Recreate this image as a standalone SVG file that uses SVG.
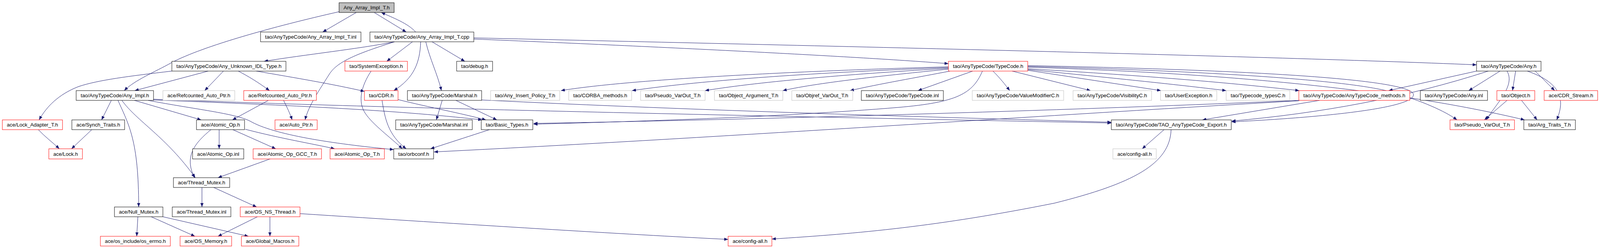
<svg xmlns="http://www.w3.org/2000/svg" width="4392" height="635" viewBox="0 0 4392 635">
<defs>
<marker id="a" markerWidth="10" markerHeight="8" refX="10" refY="4" orient="auto" markerUnits="userSpaceOnUse"><path d="M0,0L10,4L0,8z" fill="#191970"/></marker>
<style>
.n rect{fill:#fff;stroke:#000;stroke-width:1}
.n.r rect{stroke:#f00}
.n.g rect{stroke:#bfbfbf}
.n.root rect{fill:#bfbfbf}
.n text{font-family:"Liberation Sans",Arial,sans-serif;font-size:12.5px;text-anchor:middle;fill:#000}
#edges path{fill:none;stroke:#191970;stroke-width:1;marker-end:url(#a)}
</style>
</defs>
<rect width="4392" height="635" fill="#fff"/>
<g id="edges">
<path d="M912,32 L826,82"/>
<path d="M958,32 L1040,82"/>
<path d="M1064,82 C1045,60 1005,45 976,32"/>
<path d="M868,30 C700,68 520,118 440,160 C395,185 345,205 318,232"/>
<path d="M1010,107 C920,125 780,140 676,157"/>
<path d="M1010,107 C905,140 862,160 843,190 C818,230 790,270 781,307"/>
<path d="M1056,107 L990,157"/>
<path d="M1077,107 C1075,160 1060,200 1008,232"/>
<path d="M1090,107 C1100,150 1120,190 1130,232"/>
<path d="M1106,107 L1190,157"/>
<path d="M1213,100 C1700,120 2200,145 2428,163"/>
<path d="M1213,97 C2000,115 3200,142 3780,166"/>
<path d="M440,182 C330,195 250,205 200,222 C150,242 120,272 100,307"/>
<path d="M533,182 L345,232"/>
<path d="M572,182 L524,232"/>
<path d="M610,182 C635,195 660,210 690,232"/>
<path d="M656,182 C760,200 850,215 933,234"/>
<path d="M950,182 C925,220 915,260 935,290 C955,320 1000,352 1030,381"/>
<path d="M978,257 C985,300 992,345 1040,381"/>
<path d="M1019,255 C1100,275 1180,290 1244,307"/>
<path d="M285,257 L260,307"/>
<path d="M302,257 C330,320 355,360 355,530"/>
<path d="M312,257 C350,310 425,350 500,455"/>
<path d="M344,257 L515,307"/>
<path d="M379,257 C500,280 600,290 640,310 C700,345 850,368 1008,383"/>
<path d="M393,256 C700,268 1000,280 1234,307"/>
<path d="M393,254 C1000,278 2000,298 2845,315"/>
<path d="M687,257 L595,307"/>
<path d="M726,257 C735,275 742,290 748,307"/>
<path d="M1132,257 L1117,307"/>
<path d="M1167,257 L1272,307"/>
<path d="M1233,256 C1800,284 2400,300 2845,313"/>
<path d="M2428,171 C2000,183 1600,205 1436,232"/>
<path d="M2428,173 C2100,185 1800,205 1618,232"/>
<path d="M2428,175 C2200,188 1950,208 1805,232"/>
<path d="M2428,177 C2300,190 2100,210 2004,232"/>
<path d="M2432,182 C2350,198 2250,215 2176,232"/>
<path d="M2490,182 L2350,232"/>
<path d="M2542,182 C2560,200 2572,215 2585,232"/>
<path d="M2591,182 L2792,232"/>
<path d="M2631,180 L2972,232"/>
<path d="M2631,178 C2850,200 3000,215 3139,232"/>
<path d="M2631,176 C2950,195 3150,212 3326,232"/>
<path d="M2515,182 C2490,240 2450,262 2300,275 C2000,300 1600,312 1366,318"/>
<path d="M2631,170 C3100,182 3450,205 3560,235 C3640,258 3700,285 3730,307"/>
<path d="M2631,172 C3200,190 3600,235 3903,307"/>
<path d="M2631,168 C3250,180 3600,205 3618,240 C3630,275 3400,300 3153,312"/>
<path d="M3780,182 L3555,232"/>
<path d="M3810,182 C3600,250 3380,290 3153,310"/>
<path d="M3840,182 L3760,232"/>
<path d="M3858,182 C3880,220 3830,265 3805,307"/>
<path d="M3880,182 L3872,232"/>
<path d="M3910,182 C3990,210 4010,250 3985,307"/>
<path d="M3930,182 L3980,232"/>
<path d="M3858,257 L3800,307"/>
<path d="M3895,257 L3935,307"/>
<path d="M3327,257 C2800,280 2000,305 1366,316"/>
<path d="M3325,258 C2600,300 1800,355 1111,389"/>
<path d="M3378,257 L3078,307"/>
<path d="M1253,332 L1102,381"/>
<path d="M2980,332 L2924,381"/>
<path d="M2998,332 C2995,420 2900,470 2700,520 C2400,580 2200,598 1976,612"/>
<path d="M768,547 C1200,575 1600,600 1864,613"/>
<path d="M98,332 C115,350 135,365 152,381"/>
<path d="M235,332 L183,381"/>
<path d="M540,332 C500,365 470,400 498,455"/>
<path d="M561,332 L561,381"/>
<path d="M596,332 L706,381"/>
<path d="M628,331 C720,355 800,368 857,381"/>
<path d="M694,406 L558,455"/>
<path d="M517,480 L517,530"/>
<path d="M547,480 L657,530"/>
<path d="M353,555 L350,605"/>
<path d="M387,555 L499,605"/>
<path d="M417,555 L636,605"/>
<path d="M659,555 L558,605"/>
<path d="M691,555 L691,605"/>
</g>
<g id="n0" class="n root"><rect x="868" y="7" width="141" height="25"/><text x="938.5" y="24" textLength="118" lengthAdjust="spacingAndGlyphs">Any_Array_Impl_T.h</text></g>
<g id="n1" class="n"><rect x="667" y="82" width="257" height="25"/><text x="795.5" y="99" textLength="234" lengthAdjust="spacingAndGlyphs">tao/AnyTypeCode/Any_Array_Impl_T.inl</text></g>
<g id="n2" class="n"><rect x="947" y="82" width="266" height="25"/><text x="1080" y="99" textLength="243" lengthAdjust="spacingAndGlyphs">tao/AnyTypeCode/Any_Array_Impl_T.cpp</text></g>
<g id="n3" class="n"><rect x="440" y="157" width="292" height="25"/><text x="586" y="174" textLength="269" lengthAdjust="spacingAndGlyphs">tao/AnyTypeCode/Any_Unknown_IDL_Type.h</text></g>
<g id="n4" class="n r"><rect x="883" y="157" width="160" height="25"/><text x="963" y="174" textLength="137" lengthAdjust="spacingAndGlyphs">tao/SystemException.h</text></g>
<g id="n5" class="n"><rect x="1169" y="157" width="92" height="25"/><text x="1215" y="174" textLength="69" lengthAdjust="spacingAndGlyphs">tao/debug.h</text></g>
<g id="n6" class="n r"><rect x="2428" y="157" width="203" height="25"/><text x="2529.5" y="174" textLength="180" lengthAdjust="spacingAndGlyphs">tao/AnyTypeCode/TypeCode.h</text></g>
<g id="n7" class="n"><rect x="3780" y="157" width="165" height="25"/><text x="3862.5" y="174" textLength="142" lengthAdjust="spacingAndGlyphs">tao/AnyTypeCode/Any.h</text></g>
<g id="n8" class="n"><rect x="195" y="232" width="198" height="25"/><text x="294" y="249" textLength="175" lengthAdjust="spacingAndGlyphs">tao/AnyTypeCode/Any_Impl.h</text></g>
<g id="n9" class="n g"><rect x="417" y="232" width="184" height="25"/><text x="509" y="249" textLength="161" lengthAdjust="spacingAndGlyphs">ace/Refcounted_Auto_Ptr.h</text></g>
<g id="n10" class="n r"><rect x="624" y="232" width="186" height="25"/><text x="717" y="249" textLength="163" lengthAdjust="spacingAndGlyphs">ace/Refcounted_Auto_Ptr.h</text></g>
<g id="n11" class="n r"><rect x="933" y="232" width="86" height="25"/><text x="976" y="249" textLength="63" lengthAdjust="spacingAndGlyphs">tao/CDR.h</text></g>
<g id="n12" class="n"><rect x="1043" y="232" width="190" height="25"/><text x="1138" y="249" textLength="167" lengthAdjust="spacingAndGlyphs">tao/AnyTypeCode/Marshal.h</text></g>
<g id="n13" class="n g"><rect x="1256" y="232" width="177" height="25"/><text x="1344.5" y="249" textLength="154" lengthAdjust="spacingAndGlyphs">tao/Any_Insert_Policy_T.h</text></g>
<g id="n14" class="n g"><rect x="1456" y="232" width="161" height="25"/><text x="1536.5" y="249" textLength="138" lengthAdjust="spacingAndGlyphs">tao/CORBA_methods.h</text></g>
<g id="n15" class="n g"><rect x="1640" y="232" width="165" height="25"/><text x="1722.5" y="249" textLength="142" lengthAdjust="spacingAndGlyphs">tao/Pseudo_VarOut_T.h</text></g>
<g id="n16" class="n g"><rect x="1829" y="232" width="175" height="25"/><text x="1916.5" y="249" textLength="152" lengthAdjust="spacingAndGlyphs">tao/Object_Argument_T.h</text></g>
<g id="n17" class="n g"><rect x="2027" y="232" width="156" height="25"/><text x="2105" y="249" textLength="133" lengthAdjust="spacingAndGlyphs">tao/Objref_VarOut_T.h</text></g>
<g id="n18" class="n"><rect x="2205" y="232" width="210" height="25"/><text x="2310" y="249" textLength="187" lengthAdjust="spacingAndGlyphs">tao/AnyTypeCode/TypeCode.inl</text></g>
<g id="n19" class="n g"><rect x="2489" y="232" width="234" height="25"/><text x="2606" y="249" textLength="211" lengthAdjust="spacingAndGlyphs">tao/AnyTypeCode/ValueModifierC.h</text></g>
<g id="n20" class="n g"><rect x="2747" y="232" width="201" height="25"/><text x="2847.5" y="249" textLength="178" lengthAdjust="spacingAndGlyphs">tao/AnyTypeCode/VisibilityC.h</text></g>
<g id="n21" class="n g"><rect x="2971" y="232" width="144" height="25"/><text x="3043" y="249" textLength="121" lengthAdjust="spacingAndGlyphs">tao/UserException.h</text></g>
<g id="n22" class="n g"><rect x="3139" y="232" width="163" height="25"/><text x="3220.5" y="249" textLength="140" lengthAdjust="spacingAndGlyphs">tao/Typecode_typesC.h</text></g>
<g id="n23" class="n r"><rect x="3325" y="232" width="284" height="25"/><text x="3467" y="249" textLength="261" lengthAdjust="spacingAndGlyphs">tao/AnyTypeCode/AnyTypeCode_methods.h</text></g>
<g id="n24" class="n"><rect x="3636" y="232" width="172" height="25"/><text x="3722" y="249" textLength="149" lengthAdjust="spacingAndGlyphs">tao/AnyTypeCode/Any.inl</text></g>
<g id="n25" class="n r"><rect x="3832" y="232" width="97" height="25"/><text x="3880.5" y="249" textLength="74" lengthAdjust="spacingAndGlyphs">tao/Object.h</text></g>
<g id="n26" class="n r"><rect x="3953" y="232" width="137" height="25"/><text x="4021.5" y="249" textLength="114" lengthAdjust="spacingAndGlyphs">ace/CDR_Stream.h</text></g>
<g id="n27" class="n r"><rect x="6" y="307" width="154" height="25"/><text x="83" y="324" textLength="131" lengthAdjust="spacingAndGlyphs">ace/Lock_Adapter_T.h</text></g>
<g id="n28" class="n"><rect x="184" y="307" width="135" height="25"/><text x="251.5" y="324" textLength="112" lengthAdjust="spacingAndGlyphs">ace/Synch_Traits.h</text></g>
<g id="n29" class="n"><rect x="503" y="307" width="123" height="25"/><text x="564.5" y="324" textLength="100" lengthAdjust="spacingAndGlyphs">ace/Atomic_Op.h</text></g>
<g id="n30" class="n r"><rect x="704" y="307" width="108" height="25"/><text x="758" y="324" textLength="85" lengthAdjust="spacingAndGlyphs">ace/Auto_Ptr.h</text></g>
<g id="n31" class="n"><rect x="1013" y="307" width="196" height="25"/><text x="1111" y="324" textLength="173" lengthAdjust="spacingAndGlyphs">tao/AnyTypeCode/Marshal.inl</text></g>
<g id="n32" class="n"><rect x="1232" y="307" width="132" height="25"/><text x="1298" y="324" textLength="109" lengthAdjust="spacingAndGlyphs">tao/Basic_Types.h</text></g>
<g id="n33" class="n"><rect x="2845" y="307" width="307" height="25"/><text x="2998.5" y="324" textLength="284" lengthAdjust="spacingAndGlyphs">tao/AnyTypeCode/TAO_AnyTypeCode_Export.h</text></g>
<g id="n34" class="n r"><rect x="3712" y="307" width="165" height="25"/><text x="3794.5" y="324" textLength="142" lengthAdjust="spacingAndGlyphs">tao/Pseudo_VarOut_T.h</text></g>
<g id="n35" class="n"><rect x="3901" y="307" width="132" height="25"/><text x="3967" y="324" textLength="109" lengthAdjust="spacingAndGlyphs">tao/Arg_Traits_T.h</text></g>
<g id="n36" class="n r"><rect x="125" y="381" width="86" height="26"/><text x="168" y="398.5" textLength="63" lengthAdjust="spacingAndGlyphs">ace/Lock.h</text></g>
<g id="n37" class="n"><rect x="493" y="381" width="131" height="26"/><text x="558.5" y="398.5" textLength="108" lengthAdjust="spacingAndGlyphs">ace/Atomic_Op.inl</text></g>
<g id="n38" class="n r"><rect x="648" y="381" width="175" height="26"/><text x="735.5" y="398.5" textLength="152" lengthAdjust="spacingAndGlyphs">ace/Atomic_Op_GCC_T.h</text></g>
<g id="n39" class="n r"><rect x="845" y="381" width="139" height="26"/><text x="914.5" y="398.5" textLength="116" lengthAdjust="spacingAndGlyphs">ace/Atomic_Op_T.h</text></g>
<g id="n40" class="n"><rect x="1008" y="381" width="102" height="26"/><text x="1059" y="398.5" textLength="79" lengthAdjust="spacingAndGlyphs">tao/orbconf.h</text></g>
<g id="n41" class="n g"><rect x="2849" y="381" width="111" height="26"/><text x="2904.5" y="398.5" textLength="88" lengthAdjust="spacingAndGlyphs">ace/config-all.h</text></g>
<g id="n42" class="n"><rect x="444" y="455" width="144" height="25"/><text x="516" y="472" textLength="121" lengthAdjust="spacingAndGlyphs">ace/Thread_Mutex.h</text></g>
<g id="n43" class="n"><rect x="293" y="530" width="124" height="25"/><text x="355" y="547" textLength="101" lengthAdjust="spacingAndGlyphs">ace/Null_Mutex.h</text></g>
<g id="n44" class="n"><rect x="441" y="530" width="150" height="25"/><text x="516" y="547" textLength="127" lengthAdjust="spacingAndGlyphs">ace/Thread_Mutex.inl</text></g>
<g id="n45" class="n r"><rect x="615" y="530" width="153" height="25"/><text x="691.5" y="547" textLength="130" lengthAdjust="spacingAndGlyphs">ace/OS_NS_Thread.h</text></g>
<g id="n46" class="n r"><rect x="257" y="605" width="179" height="25"/><text x="346.5" y="622" textLength="156" lengthAdjust="spacingAndGlyphs">ace/os_include/os_errno.h</text></g>
<g id="n47" class="n r"><rect x="461" y="605" width="132" height="25"/><text x="527" y="622" textLength="109" lengthAdjust="spacingAndGlyphs">ace/OS_Memory.h</text></g>
<g id="n48" class="n r"><rect x="618" y="605" width="147" height="25"/><text x="691.5" y="622" textLength="124" lengthAdjust="spacingAndGlyphs">ace/Global_Macros.h</text></g>
<g id="n49" class="n r"><rect x="1864" y="605" width="112" height="25"/><text x="1920" y="622" textLength="89" lengthAdjust="spacingAndGlyphs">ace/config-all.h</text></g>
</svg>
